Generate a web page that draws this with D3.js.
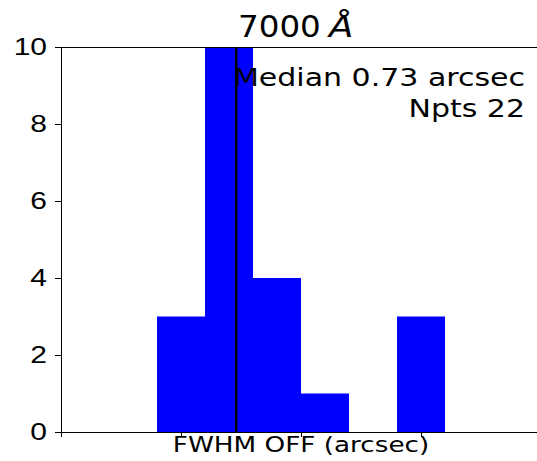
<!DOCTYPE html>
<html>
<head>
<meta charset="utf-8">
<script src="https://cdn.jsdelivr.net/npm/d3@7"></script>
<style>
  body { margin: 0; background: #fff; }
  svg { display: block; font-family: "DejaVu Sans", sans-serif; }
</style>
</head>
<body>
<div class="chart"></div>
<script>
// histogram of FWHM OFF values, bins of 0.2 arcsec
const binEdges = [0.4, 0.6, 0.8, 1.0, 1.2, 1.4, 1.6]
const counts = [3, 11, 4, 1, 0, 3]
const yTicks = [0, 2, 4, 6, 8, 10]
const xTicks = [0.5, 1.0, 1.5]
const medianValue = 0.73
const nPts = 22

const width = 537
const height = 461
const margin = {left: 61, top: 47, right: -4, bottom: 29}
const sx = 1.25 // text in the picture is a bit wider than plain DejaVu

const x = d3.scaleLinear().domain([0, 2]).range([margin.left, width - margin.right])
const y = d3.scaleLinear().domain([0, 10]).range([height - margin.bottom, margin.top])

const svg = d3.select('.chart').append('svg')
    .attr("width", width)
    .attr("height", height)

svg.append("clipPath").attr("id", "plot")
  .append("rect")
    .attr("x", margin.left)
    .attr("y", margin.top)
    .attr("width", x(2) - margin.left)
    .attr("height", y(0) - margin.top)

const bins = counts.map((c, i) => ({x0: binEdges[i], x1: binEdges[i + 1], n: c}))

svg.append("g")
    .attr("clip-path", "url(#plot)")
  .selectAll("rect")
  .data(bins.filter(d => d.n > 0))
  .join("rect")
    .attr("x", d => x(d.x0))
    .attr("width", d => x(d.x1) - x(d.x0))
    .attr("y", d => y(d.n))
    .attr("height", d => y(0) - y(d.n))
    .attr("fill", "#0000ff")

// median line
svg.append("line")
    .attr("x1", x(medianValue)).attr("x2", x(medianValue))
    .attr("y1", y(0)).attr("y2", y(10))
    .attr("stroke", "#000")
    .attr("stroke-width", 2.5)

// axes
const yAxis = svg.append("g")
    .attr("transform", `translate(${margin.left},0)`)
    .call(d3.axisLeft(y).tickValues(yTicks).tickSize(6))
yAxis.select(".domain").attr("stroke", "#000")
yAxis.selectAll("text")
    .attr("x", 0)
    .attr("transform", `translate(-14,0) scale(${sx},1)`)
    .style("font-size", "24px")
    .attr("fill", "#000")

const xAxis = svg.append("g")
    .attr("transform", `translate(0,${y(0)})`)
    .call(d3.axisBottom(x).tickValues(xTicks).tickSize(5).tickFormat(""))
xAxis.select(".domain").attr("stroke", "#000")

// top spine
svg.append("line")
    .attr("x1", margin.left).attr("x2", x(2))
    .attr("y1", y(10) + 0.5).attr("y2", y(10) + 0.5)
    .attr("stroke", "#000")

function label(px, py, size, anchor, str, stretch) {
    return svg.append("text")
        .attr("transform", `translate(${px},${py}) scale(${stretch},1)`)
        .attr("text-anchor", anchor)
        .style("font-size", size + "px")
        .text(str)
}

// title: 7000 Å
label(238, 37, 31, "start", "7000", 1.05)
label(329, 37, 31, "start", "Å", 1.15).style("font-style", "italic")

label(525, 86, 24, "end", `Median ${medianValue.toFixed(2)} arcsec`, sx)
label(525, 117, 24, "end", `Npts ${nPts}`, sx)

label(x(1), 452, 21, "middle", "FWHM OFF (arcsec)", sx)
</script>
</body>
</html>
